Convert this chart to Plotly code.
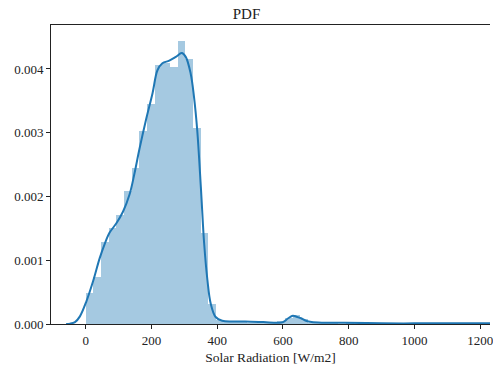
import plotly.graph_objects as go

# Histogram (density) — 50 bins starting at 0
bin_start = 0.0
bin_width = 23.3
hist_density = [
    0.00049, 0.00074, 0.00129, 0.00150, 0.00171, 0.00209, 0.00244, 0.00302,
    0.00345, 0.00407, 0.00409, 0.00403, 0.00444, 0.00415, 0.00308, 0.00142,
    0.00032, 0.00006, 0.00004, 0.00003, 0.00003, 0.00002, 0.00002, 0.00001,
    0.00001, 0.00004, 0.00010, 0.00014, 0.00008, 0.00002, 0.00001, 0.00001,
    0.00001, 0.0, 0.00001, 0.0, 0.0, 0.00001, 0.0, 0.0,
    0.0, 0.00001, 0.0, 0.0, 0.0, 0.0, 0.00001, 0.0, 0.0, 0.00001,
]

# KDE curve points
kde_x = [-60, -48, -33, -18, 2, 22, 42, 57, 72, 93, 113, 133, 148, 163, 183,
         203, 218, 233, 254, 274, 292, 304, 319, 329, 339, 350, 360, 370, 380,
         395, 415, 450, 485, 540, 586, 600, 616, 630, 641, 655, 670, 687, 720,
         788, 900, 1000, 1100, 1200, 1240]
kde_y = [0.0, 0.000005, 0.00003, 0.00012, 0.00036, 0.00067, 0.00103, 0.00125,
         0.00143, 0.00158, 0.00176, 0.00203, 0.00236, 0.00274, 0.00320,
         0.00362, 0.00398, 0.00409, 0.00413, 0.00419, 0.00425, 0.00419,
         0.00393, 0.00357, 0.00304, 0.00215, 0.00127, 0.00069, 0.00032,
         0.00011, 0.00005, 0.00004, 0.00004, 0.00003, 0.00002, 0.00003,
         0.00009, 0.00013, 0.000115, 0.00009, 0.00005, 0.00003, 0.00002,
         0.00002, 0.00001, 0.00001, 0.00001, 0.00001, 0.00001]

x_ticks = [0, 200, 400, 600, 800, 1000, 1200]
y_ticks = [0.000, 0.001, 0.002, 0.003, 0.004]

centers = [bin_start + (i + 0.5) * bin_width for i in range(len(hist_density))]

fig = go.Figure()
fig.add_trace(go.Bar(
    x=centers, y=hist_density, width=bin_width,
    marker=dict(color="rgba(31,119,180,0.4)", line=dict(width=0)),
    hoverinfo="skip",
))
fig.add_trace(go.Scatter(
    x=kde_x, y=kde_y, mode="lines", line_shape="spline",
    line=dict(color="#1f77b4", width=2),
))

font = "Liberation Serif"
axis_common = dict(
    showgrid=False, zeroline=False, showline=True, linecolor="#222",
    linewidth=1, ticks="outside", ticklen=4, tickcolor="#222",
    tickfont=dict(family=font, size=13, color="#222"),
)
fig.update_layout(
    width=493, height=365,
    margin=dict(l=51, r=0, t=25, b=41),
    paper_bgcolor="white", plot_bgcolor="white",
    showlegend=False, bargap=0,
    title=dict(text="PDF", x=0.5, xanchor="center", y=0.962, yanchor="middle",
               font=dict(family=font, size=15, color="#222")),
    xaxis=dict(range=[-106, 1230], tickvals=x_ticks, mirror=True,
               ticklabeloverflow="allow",
               title=dict(text="Solar Radiation [W/m2]", standoff=5,
                          font=dict(family=font, size=13.5, color="#222")),
               **axis_common),
    yaxis=dict(range=[0, 0.00469], tickvals=y_ticks, tickformat=".3f",
               **axis_common),
)

fig.write_html("out.html",
               config={"displayModeBar": False},
               post_script="document.body.style.margin='0px';document.body.style.overflow='hidden';")
